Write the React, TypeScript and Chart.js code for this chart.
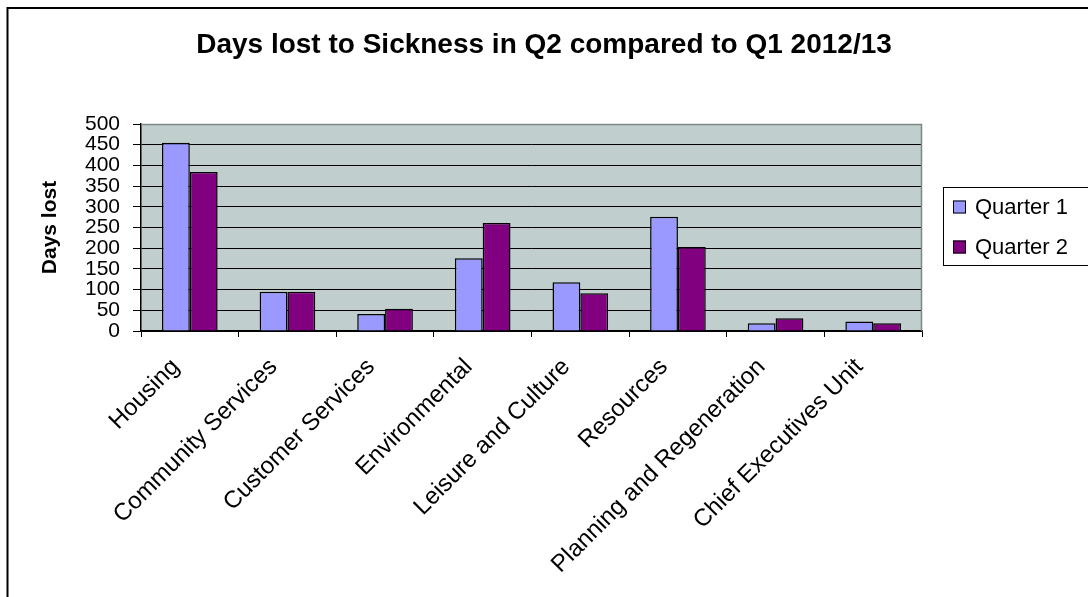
import React, { useEffect, useRef } from "react";
import { Chart, registerables } from "chart.js";

Chart.register(...registerables);

// ---- data ----
const categories = [
  "Housing",
  "Community Services",
  "Customer Services",
  "Environmental",
  "Leisure and Culture",
  "Resources",
  "Planning and Regeneration",
  "Chief Executives Unit",
];
const quarter1 = [455, 95, 41, 176, 118, 276, 19, 23];
const quarter2 = [384, 95, 54, 261, 91, 203, 31, 19];
const seriesLabels = ["Quarter 1", "Quarter 2"];
const seriesColors = ["#9999FF", "#800080"];
const titleText = "Days lost to Sickness in Q2 compared to Q1 2012/13";
const yAxisTitle = "Days lost";
const yMin = 0;
const yMax = 500;
const yStep = 50;

const FONT = "'Liberation Sans', Arial, Helvetica, sans-serif";

const plotBackground = {
  id: "plotBackground",
  beforeDraw(chart: any) {
    const { ctx, chartArea } = chart;
    const { left, top, right, bottom } = chartArea;
    ctx.save();
    ctx.fillStyle = "#ffffff";
    ctx.fillRect(0, 0, chart.width, chart.height);
    ctx.fillStyle = "#C0CFCD";
    ctx.fillRect(left, top, right - left, bottom - top);
    ctx.restore();
  },
};

const plotBorder = {
  id: "plotBorder",
  beforeDatasetsDraw(chart: any) {
    const { ctx, chartArea } = chart;
    const { left, top, right, bottom } = chartArea;
    ctx.save();
    ctx.strokeStyle = "#7f8585";
    ctx.lineWidth = 1.5;
    ctx.beginPath();
    ctx.moveTo(left, top + 0.5);
    ctx.lineTo(right - 0.5, top + 0.5);
    ctx.lineTo(right - 0.5, bottom);
    ctx.stroke();
    ctx.restore();
  },
};

const outerFrame = {
  id: "outerFrame",
  afterDraw(chart: any) {
    const { ctx } = chart;
    ctx.save();
    ctx.strokeStyle = "#000";
    ctx.lineWidth = 2;
    ctx.beginPath();
    ctx.moveTo(7.5, chart.height + 2);
    ctx.lineTo(7.5, 8);
    ctx.lineTo(chart.width + 2, 8);
    ctx.stroke();
    ctx.restore();
  },
};

const boxLegend = {
  id: "boxLegend",
  afterDraw(chart: any) {
    const { ctx } = chart;
    ctx.save();
    ctx.strokeStyle = "#000";
    ctx.lineWidth = 1;
    ctx.strokeRect(943.5, 187.5, 200, 78);
    ctx.font = `22px ${FONT}`;
    ctx.textBaseline = "middle";
    ctx.textAlign = "left";
    chart.data.datasets.forEach((ds: any, i: number) => {
      const yc = 207 + i * 40;
      ctx.fillStyle = ds.backgroundColor;
      ctx.fillRect(953, yc - 6.5, 13, 13);
      ctx.strokeRect(953.5, yc - 6, 12, 12);
      ctx.fillStyle = "#000";
      ctx.fillText(ds.label, 975, yc + 1);
    });
    ctx.restore();
  },
};

export default function App() {
  const canvasRef = useRef<HTMLCanvasElement | null>(null);

  useEffect(() => {
    if (!canvasRef.current) return;
    Chart.defaults.font.family = FONT;
    Chart.defaults.color = "#000";

    const chart = new Chart(canvasRef.current, {
      type: "bar",
      data: {
        labels: categories,
        datasets: [
          {
            label: seriesLabels[0],
            data: quarter1,
            backgroundColor: seriesColors[0],
            borderColor: "#000",
            borderWidth: 1.5,
            categoryPercentage: 0.57,
            barPercentage: 1.0,
          },
          {
            label: seriesLabels[1],
            data: quarter2,
            backgroundColor: seriesColors[1],
            borderColor: "#000",
            borderWidth: 1.5,
            categoryPercentage: 0.57,
            barPercentage: 1.0,
          },
        ],
      },
      options: {
        animation: false,
        responsive: false,
        devicePixelRatio: 1,
        layout: { padding: { left: 0, right: 0, top: 0, bottom: 0 } },
        plugins: {
          legend: { display: false },
          tooltip: { enabled: false },
          title: {
            display: true,
            text: titleText,
            color: "#000",
            font: { size: 28, weight: "bold", family: FONT },
            padding: { top: 28.2, bottom: 62.2 },
          },
        },
        scales: {
          x: {
            type: "category",
            grid: {
              display: true,
              drawOnChartArea: false,
              drawTicks: true,
              tickLength: 6,
              tickColor: "#000",
              offset: true,
            },
            border: { display: true, color: "#000", width: 1.5 },
            ticks: {
              autoSkip: false,
              minRotation: 45,
              maxRotation: 45,
              padding: 16,
              labelOffset: -14,
              color: "#000",
              font: { size: 24, family: FONT },
            },
            afterFit: (scale: any) => {
              scale.height = 266;
            },
          },
          y: {
            type: "linear",
            position: "left",
            min: yMin,
            max: yMax,
            grid: {
              color: (c: any) =>
                c.tick && c.tick.value === yMax ? "rgba(0,0,0,0)" : "#000",
              lineWidth: 1,
              drawTicks: true,
              tickLength: 8,
              tickColor: "#000",
            },
            border: { display: true, color: "#000", width: 1.5 },
            ticks: {
              stepSize: yStep,
              autoSkip: false,
              padding: 13,
              color: "#000",
              font: { size: 21, family: FONT },
            },
            title: {
              display: true,
              text: yAxisTitle,
              color: "#000",
              font: { size: 21, weight: "bold", family: FONT },
              padding: { top: 37.4, bottom: 0 },
            },
            afterFit: (scale: any) => {
              scale.width = 141;
            },
          },
          legendSpace: {
            type: "linear",
            position: "right",
            display: true,
            grid: { display: false, drawTicks: false },
            border: { display: false },
            ticks: { display: false },
            afterFit: (scale: any) => {
              scale.width = 166;
            },
          },
        },
      } as any,
      plugins: [plotBackground, plotBorder, outerFrame, boxLegend],
    });

    return () => {
      chart.destroy();
    };
  }, []);

  return (
    <div
      style={{
        position: "fixed",
        left: 0,
        top: 0,
        width: 1088,
        height: 597,
        background: "#fff",
      }}
    >
      <canvas ref={canvasRef} width={1088} height={597} />
    </div>
  );
}
